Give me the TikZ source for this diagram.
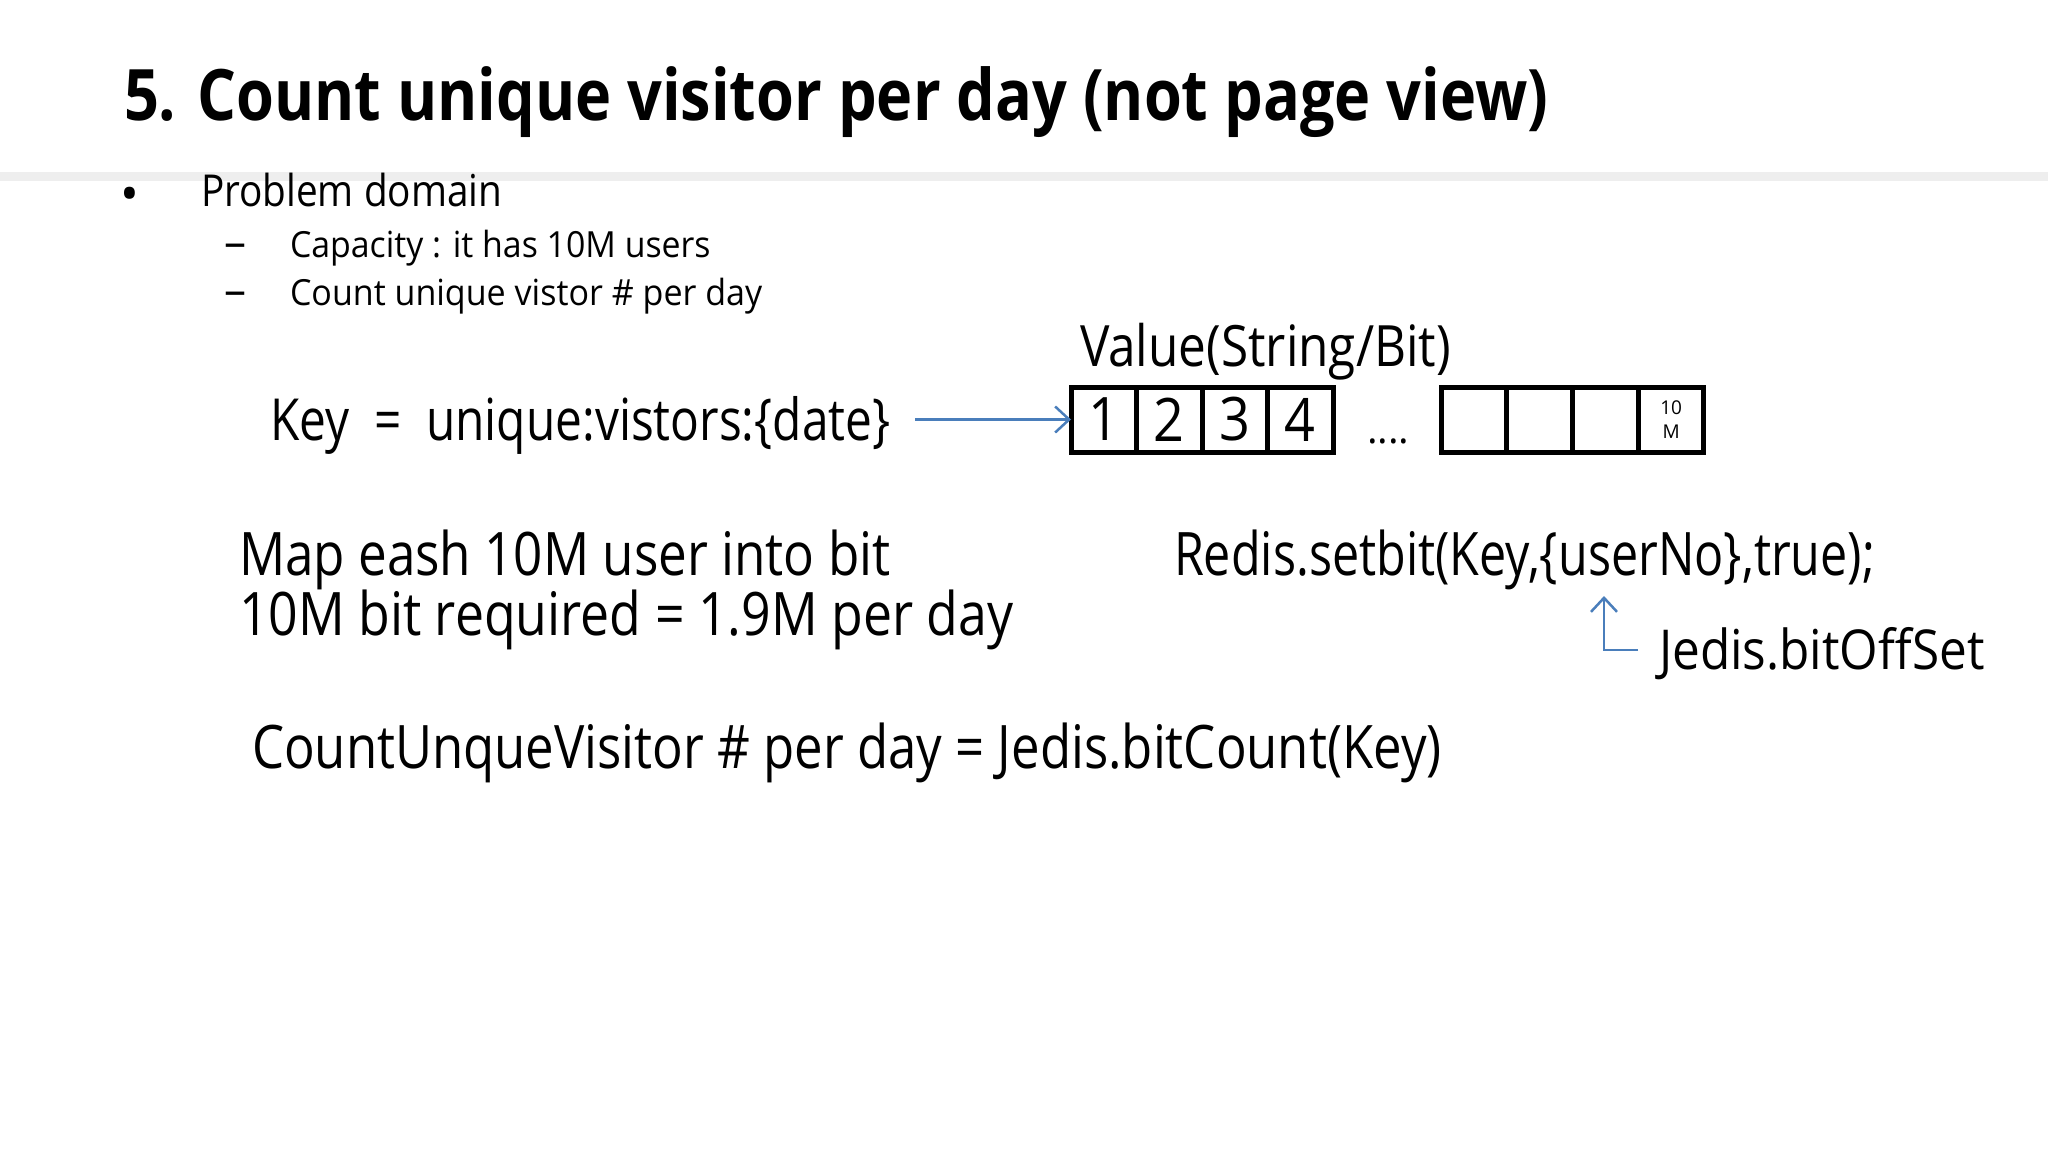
\documentclass[tikz,border=0pt]{standalone}
\usepackage{graphicx}
\usepackage{fontspec}
\setmainfont{Open Sans}
\usetikzlibrary{arrows.meta}
\definecolor{arrblue}{HTML}{4A7EBB}
\definecolor{bandgray}{HTML}{EEEEEE}
\newcommand{\hsq}[2]{\scalebox{#1}[1]{#2}}
\tikzset{
  txt/.style={anchor=base west, inner sep=0pt, outer sep=0pt},
  fs/.style={font=\fontsize{#1}{#1}\selectfont},
  cell/.style={draw, line width=5pt, minimum width=65.5pt, minimum height=65pt,
    inner sep=0pt, outer sep=0pt, font=\fontsize{60}{60}\selectfont},
  arr/.style={draw=arrblue, line width=2.5pt, -{Straight Barb[length=14pt,width=26pt]}},
}
\begin{document}
\begin{tikzpicture}[x=1pt,y=-1pt]
\fill[white] (0,0) rectangle (2048,1152);
\useasboundingbox (0,0) rectangle (2048,1152);
\fill[bandgray] (0,172) rectangle (2048,181);

\node[txt, font=\bfseries\fontsize{71}{71}\selectfont] (title) at (124,120)
  {\hsq{0.862}{5. Count unique visitor per day (not page view)}};

\node[inner sep=0pt, fs=50] (bul) at (130,199) {•};
\node[txt, fs=44] (pd) at (201,206) {\hsq{0.88}{Problem domain}};
\node[anchor=base, inner sep=0pt, fs=44] (d1) at (235,257) {–};
\node[txt, fs=36] (cap) at (290,257) {\hsq{0.94}{Capacity : it has 10M users}};
\node[anchor=base, inner sep=0pt, fs=44] (d2) at (235,305) {–};
\node[txt, fs=36] (cnt) at (290,305) {\hsq{0.945}{Count unique vistor \# per day}};

\node[txt, fs=57] (val) at (1080,366) {\hsq{0.868}{Value(String/Bit)}};
\node[txt, fs=58] (key) at (270,440) {\hsq{0.824}{Key\hspace{15pt} = \hspace{15pt}unique:vistors:\{date\}}};

\node[cell] (c1) at (1103.75,419.5) {\hsq{0.9}{1}};
\node[cell] (c2) at (1169.25,419.5) {\hsq{0.9}{2}};
\node[cell] (c3) at (1234.75,419.5) {\hsq{0.9}{3}};
\node[cell] (c4) at (1300.25,419.5) {\hsq{0.9}{4}};
\node[txt, fs=40] (dots) at (1367,443) {....};
\node[cell] (e1) at (1473.9,419.5) {};
\node[cell] (e2) at (1539.6,419.5) {};
\node[cell] (e3) at (1605.4,419.5) {};
\node[cell, font=\fontsize{19}{24}\selectfont, align=center] (e4) at (1671.1,419.5) {10\\M};

\coordinate (arrstart) at (915,419.5);
\draw[arr] (arrstart) -- (c1.west);

\node[txt, fs=60] (map1) at (239,575) {\hsq{0.853}{Map eash 10M user into bit}};
\node[txt, fs=60] (map2) at (239,635) {\hsq{0.863}{10M bit required = 1.9M per day}};
\node[txt, fs=60] (redis) at (1174,575) {\hsq{0.807}{Redis.setbit(Key,\{userNo\},true);}};
\node[txt, fs=55] (jedis) at (1659,669) {\hsq{0.90}{Jedis.bitOffSet}};
\coordinate (offtail) at (1638,650);
\coordinate (offtip) at (1604,596);
\draw[arr] (offtail) -| (offtip);

\node[txt, fs=60] (count) at (252,768) {\hsq{0.848}{CountUnqueVisitor \# per day = Jedis.bitCount(Key)}};
\end{tikzpicture}
\end{document}
